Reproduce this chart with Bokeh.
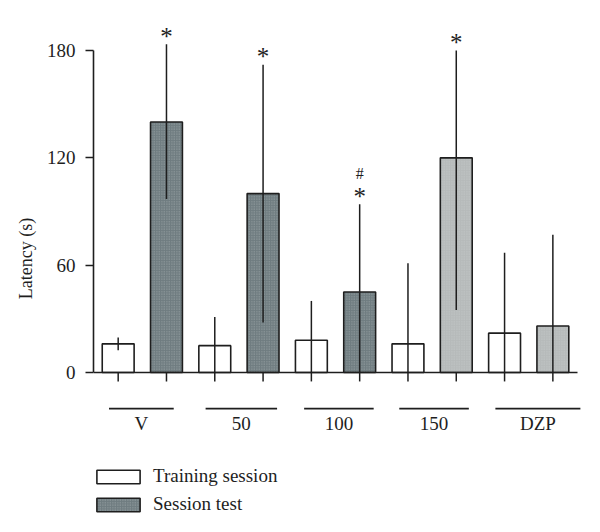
from bokeh.plotting import figure
from bokeh.models import (ColumnDataSource, FixedTicker, Legend, LegendItem, Range1d)
from bokeh.embed import file_html
from bokeh.resources import INLINE

# ---- data ----
groups = ["V", "50", "100", "150", "DZP"]
training_mean = [16, 15, 18, 16, 22]
training_low = [12.5, 0, 0, 0, 0]
training_high = [19.5, 31, 40, 61, 67]
test_mean = [140, 100, 45, 120, 26]
test_low = [97, 28, 0, 35, 0]
test_high = [183.5, 172, 94, 180, 77]
test_marks = ["*", "*", "*", "*", ""]
test_hash = ["", "", "#", "", ""]
y_ticks = [0, 60, 120, 180]

# ---- style ----
FONT = "Liberation Serif"
INK = "#1e1e1e"
DARK = "#6f7c80"
LIGHT = "#b6baba"
test_colors = [DARK, DARK, DARK, LIGHT, LIGHT]
BAR_W = 0.66
line_half_left = [0.69, 0.69, 0.65, 0.68, 0.69]
line_half_right = [0.65, 0.79, 0.79, 0.76, 1.07]

n = len(groups)
x_train = [2 * i for i in range(n)]
x_test = [2 * i + 1 for i in range(n)]
centers = [2 * i + 0.5 for i in range(n)]

p = figure(width=584, height=516, output_backend="svg", toolbar_location=None,
           x_range=Range1d(-0.511, 9.655), y_range=Range1d(-80.5, 207.95),
           min_border_left=93, min_border_right=0, min_border_top=0, min_border_bottom=0,
           x_axis_location=None)
p.outline_line_color = None
p.grid.visible = False
p.background_fill_color = "white"
p.border_fill_color = "white"

src_train = ColumnDataSource(dict(x=x_train, top=training_mean, lo=training_low, hi=training_high))
src_test = ColumnDataSource(dict(x=x_test, top=test_mean, lo=test_low, hi=test_high,
                                 color=test_colors, mark=test_marks, hash=test_hash))

r_train = p.vbar(x="x", top="top", width=BAR_W, bottom=0, source=src_train,
                 fill_color="white", line_color=INK, line_width=1.6)
r_test = p.vbar(x="x", top="top", width=BAR_W, bottom=0, source=src_test,
                fill_color="color", line_color=INK, line_width=1.6,
                hatch_pattern="dot", hatch_color="#d8dcdc", hatch_alpha=0.45,
                hatch_scale=2.5, hatch_weight=0.8)

# error bars
p.segment(x0="x", y0="lo", x1="x", y1="hi", source=src_train, line_color=INK, line_width=1.5)
p.segment(x0="x", y0="lo", x1="x", y1="hi", source=src_test, line_color=INK, line_width=1.5)

# significance marks
p.text(x="x", y="hi", text="mark", source=src_test, text_font={"value": FONT},
       text_font_size="25px", text_align="center", text_baseline="alphabetic",
       text_color=INK, y_offset=-8)
p.text(x="x", y="hi", text="hash", source=src_test, text_font={"value": FONT},
       text_font_size="16px", text_align="center", text_baseline="alphabetic",
       text_color=INK, y_offset=-31)

# x baseline and ticks
all_x = x_train + x_test
p.segment(x0=[-0.511], y0=[0], x1=[9.51], y1=[0], line_color=INK, line_width=1.6)
p.segment(x0=all_x, y0=[0] * len(all_x), x1=all_x, y1=[-5] * len(all_x),
          line_color=INK, line_width=1.5)

# group lines and labels
gl_x0 = [c - l for c, l in zip(centers, line_half_left)]
gl_x1 = [c + r for c, r in zip(centers, line_half_right)]
p.segment(x0=gl_x0, y0=[-20.2] * n, x1=gl_x1, y1=[-20.2] * n, line_color=INK, line_width=1.6)
p.text(x=[(a + b) / 2 for a, b in zip(gl_x0, gl_x1)], y=[-28.3] * n, text=groups,
       text_font={"value": FONT}, text_font_size="19px", text_align="center",
       text_baseline="middle", text_color=INK)

# y axis
ya = p.yaxis[0]
ya.ticker = FixedTicker(ticks=y_ticks)
ya.bounds = (0, 180)
ya.axis_line_color = INK
ya.axis_line_width = 1.6
ya.major_tick_line_color = INK
ya.major_tick_line_width = 1.5
ya.major_tick_out = 8
ya.major_tick_in = 0
ya.minor_tick_line_color = None
ya.major_label_standoff = 10
ya.major_label_text_font = FONT
ya.major_label_text_font_size = "19px"
ya.major_label_text_color = INK
ya.axis_label = "Latency (s)"
ya.axis_label_text_font = FONT
ya.axis_label_text_font_size = "18px"
ya.axis_label_text_font_style = "normal"
ya.axis_label_text_color = INK
ya.axis_label_standoff = 8

legend = Legend(items=[LegendItem(label="Training session", renderers=[r_train], index=0),
                       LegendItem(label="Session test", renderers=[r_test], index=0)],
                location=(-2, 1), orientation="vertical",
                glyph_width=54, glyph_height=17, label_height=20, spacing=6,
                label_standoff=8, padding=0, margin=0,
                label_text_font=FONT, label_text_font_size="19px", label_text_color=INK,
                border_line_color=None, background_fill_alpha=0)
p.add_layout(legend)

open("out.html", "w").write(file_html(p, INLINE))
